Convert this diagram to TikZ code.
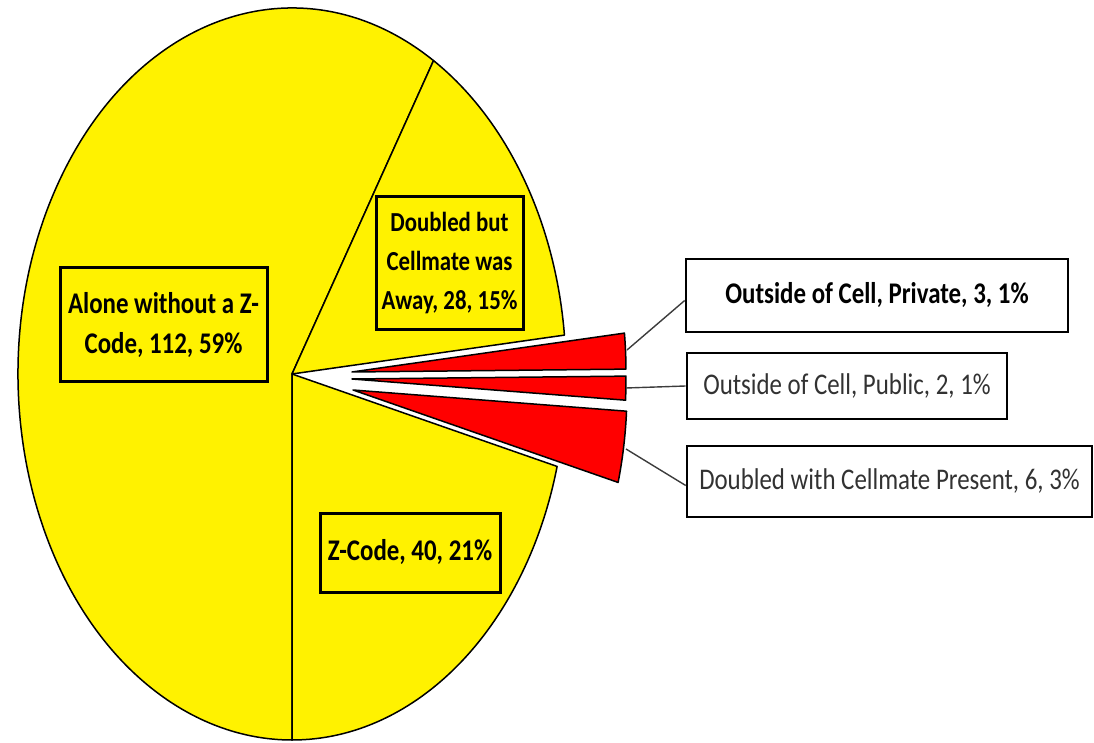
\documentclass[tikz,border=0pt]{standalone}
\usepackage{fontspec}
\setmainfont[FakeStretch=0.83]{Carlito}
\usetikzlibrary{calc}
\definecolor{leadgray}{RGB}{60,60,60}
\definecolor{textgray}{RGB}{50,50,50}

\begin{document}
\begin{tikzpicture}[x=1pt, y=1pt,
		slice/.style={draw=black, line width=1.5pt, line join=round},
		piearc/.style={x radius=274, y radius=366},
		pielabel/.style={draw=black, line width=3pt, align=center, inner sep=0pt, font=\bfseries\fontsize{30}{40}\selectfont},
		sidelabel/.style={draw=black, line width=2.6pt, fill=white, align=center, inner sep=0pt, font=\fontsize{30}{34}\selectfont},
		leader/.style={draw=leadgray, line width=1.4pt}]
		\useasboundingbox (0,0) rectangle (1094,742);
		\coordinate (O) at (292,368);
		% yellow slices
		\filldraw[slice, fill=yellow] (O) -- ++(58.9:274 and 366) arc[piearc, start angle=58.9, end angle=270] -- cycle;
		\filldraw[slice, fill=yellow] (O) -- ++(6.1:274 and 366) arc[piearc, start angle=6.1, end angle=58.9] -- cycle;
		\filldraw[slice, fill=yellow] (O) -- ++(-90:274 and 366) arc[piearc, start angle=-90, end angle=-14.63] -- cycle;
		% exploded red slices
		\filldraw[slice, fill=red] ($(O)+(60,2)$) -- ++(0.45:274 and 366) arc[piearc, start angle=0.45, end angle=6.1] -- cycle;
		\filldraw[slice, fill=red] ($(O)+(60,-5)$) -- ++(-3.32:274 and 366) arc[piearc, start angle=-3.32, end angle=0.45] -- cycle;
		\filldraw[slice, fill=red] ($(O)+(61,-16)$) -- ++(-14.63:274 and 366) arc[piearc, start angle=-14.63, end angle=-3.32] -- cycle;
		\coordinate (privEnd) at (627,392);
		\coordinate (pubEnd) at (626,354);
		\coordinate (presEnd) at (626,293);
		% labels inside the pie
		\node[pielabel, minimum width=207, minimum height=114] (alone) at (163.5,417) {Alone without a Z-\\Code, 112, 59\%};
		\node[pielabel, minimum width=147, minimum height=133, font=\bfseries\fontsize{27.5}{39}\selectfont] (away) at (449.5,478.5) {Doubled but\\Cellmate was\\Away, 28, 15\%};
		\node[pielabel, minimum width=180, minimum height=79] (zcode) at (410,189.5) {Z-Code, 40, 21\%};
		% labels outside
		\node[sidelabel, minimum width=382, minimum height=73, font=\bfseries\fontsize{30}{34}\selectfont] (private) at (877,446.5) {Outside of Cell, Private, 3, 1\%};
		\node[sidelabel, minimum width=320, minimum height=66, text=textgray] (public) at (847,356) {Outside of Cell, Public, 2, 1\%};
		\node[sidelabel, minimum width=405, minimum height=71, text=textgray] (present) at (889.5,260.5) {Doubled with Cellmate Present, 6, 3\%};
		\draw[leader] (privEnd) -- ([yshift=-5]private.west);
		\draw[leader] (pubEnd) -- (public.west);
		\draw[leader] (presEnd) -- ([yshift=-4]present.west);
	\end{tikzpicture}
\end{document}
